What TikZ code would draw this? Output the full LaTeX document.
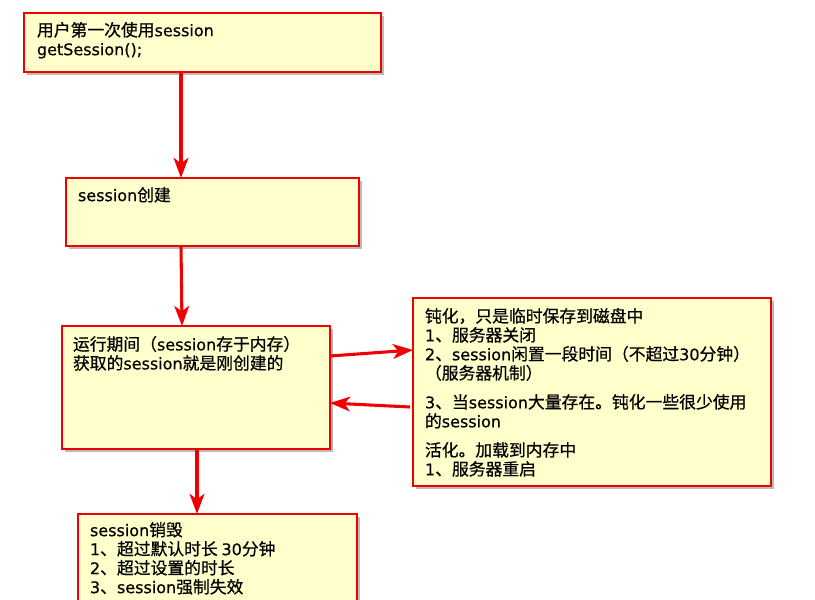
\documentclass[tikz,border=0pt]{standalone}
\usepackage{fontspec}
\setmainfont{Noto Sans CJK SC}[FakeBold=0.6]
\newfontfamily\latf{DejaVu Sans}[FakeBold=0.4]
\newcommand\lt[1]{{\latf\fontsize{12pt}{14.25pt}\selectfont #1}}
\usetikzlibrary{arrows.meta,shadows,calc}
\definecolor{boxfill}{HTML}{FFFFCC}
\definecolor{boxred}{HTML}{F00000}
\definecolor{arrred}{HTML}{F00000}
\tikzset{
  box/.style={draw=boxred, line width=1.6pt, fill=boxfill, rectangle, inner sep=0pt, outer sep=0pt,
    anchor=north west, drop shadow={shadow xshift=2.5pt, shadow yshift=-2.5pt, opacity=0.45, fill=black!60}},
  txt/.style={anchor=north west, inner sep=0pt, outer sep=0pt, align=left,
    font=\fontsize{12.6pt}{14.25pt}\selectfont},
  conn/.style={draw=arrred, line width=2.3pt, -{Stealth[length=15pt, width=11pt, inset=4pt]}}
}
\begin{document}
\begin{tikzpicture}[x=0.75pt, y=-0.75pt]
\clip (0,0) rectangle (815,600);
\useasboundingbox (0,0) rectangle (815,600);
\fill[white] (0,0) rectangle (815,600);
% boxes
\node[box, minimum width=357*0.75pt, minimum height=59*0.75pt] (b1) at (24,13) {};
\node[box, minimum width=293*0.75pt, minimum height=68*0.75pt] (b2) at (66,178) {};
\node[box, minimum width=268*0.75pt, minimum height=123*0.75pt] (b3) at (62,326) {};
\node[box, minimum width=279*0.75pt, minimum height=120*0.75pt] (b4) at (78,514) {};
\node[box, minimum width=358*0.75pt, minimum height=188*0.75pt] (b5) at (413,298) {};
% texts
\node[txt] (t1) at (37,22) {用户第一次使用\lt{session}\\\lt{getSession();}};
\node[txt] (t2) at (78,187) {\lt{session}创建};
\node[txt] (t3) at (73,336) {运行期间（\lt{session}存于内存）\\获取的\lt{session}就是刚创建的};
\node[txt] (t4) at (90,522) {\lt{session}销毁\\\lt{1}、超过默认时长 \lt{30}分钟\\\lt{2}、超过设置的时长\\\lt{3}、\lt{session}强制失效};
\node[txt] (t5) at (425,308) {钝化，只是临时保存到磁盘中\\\lt{1}、服务器关闭\\\lt{2}、\lt{session}闲置一段时间（不超过\lt{30}分钟）\\（服务器机制）\\[7.5pt]\lt{3}、当\lt{session}大量存在。钝化一些很少使用\\的\lt{session}\\[7.5pt]活化。加载到内存中\\\lt{1}、服务器重启};
% connectors
\draw[conn] ($(b1.south west)+(157,0)$) -- ($(b2.north west)+(115,0)$);
\draw[conn] ($(b2.south west)+(115,0)$) -- ($(b3.north west)+(120,0)$);
\draw[conn] ($(b3.south west)+(135,0)$) -- ($(b4.north west)+(119,0)$);
\draw[conn] ($(b3.north east)+(0,30)$) -- ($(b5.north west)+(0,52)$);
\draw[conn] ($(b5.north west)+(-3,109)$) -- ($(b3.north east)+(0,77)$);
\end{tikzpicture}
\end{document}
